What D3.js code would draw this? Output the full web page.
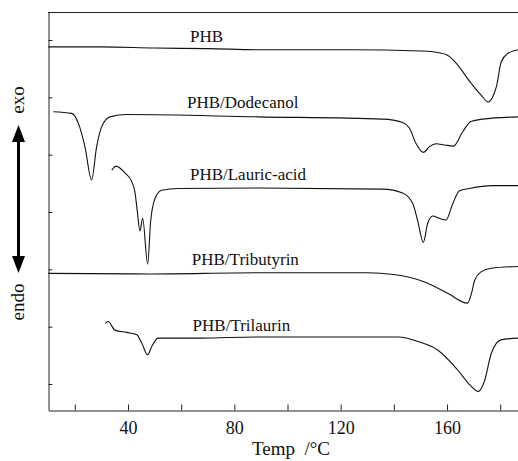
<!DOCTYPE html>
<html>
<head>
<meta charset="utf-8">
<script src="https://cdn.jsdelivr.net/npm/d3@7"></script>
<style>
	body { margin: 0; background: #fff; }
	svg { display: block; }
	text { font-family: "Liberation Serif", "Times New Roman", serif; fill: #111; }
	.axis path, .axis line { stroke: #222; stroke-width: 1; }
	.curve { fill: none; stroke: #111; stroke-width: 1.1; }
</style>
</head>
<body>
<svg width="518" height="461"></svg>
<script>
// DSC traces, [temperature in C, heat flow in tick units]
var seriesNames = ["PHB", "PHB/Dodecanol", "PHB/Lauric-acid", "PHB/Tributyrin", "PHB/Trilaurin"]

var phb = [[10, 5.88], [30, 5.88], [50, 5.86], [70, 5.85], [90, 5.83], [124, 5.83], [150, 5.81], [154, 5.80],
	[160, 5.74], [163, 5.62], [169, 5.25], [173, 5.03], [175.5, 4.92], [177.3, 5.02], [178.6, 5.19],
	[180.4, 5.62], [183, 5.77], [186.7, 5.83]]

var phbDodecanol = [[11.9, 4.75], [18.8, 4.72], [21.3, 4.55], [23.8, 4.14], [26.3, 3.56], [28.2, 4.14],
	[30.1, 4.49], [33.2, 4.66], [39.5, 4.70], [89, 4.66], [135.8, 4.62], [143.3, 4.56], [145.9, 4.46],
	[148.3, 4.20], [151.1, 4.04], [153.4, 4.14], [155.9, 4.19], [159, 4.17], [162.4, 4.15], [165.9, 4.40],
	[169, 4.58], [173.4, 4.62], [186.7, 4.66]]

var phbLauric = [[33.9, 3.73], [35.5, 3.80], [38.9, 3.68], [41.4, 3.53], [42.6, 3.35], [43.5, 3.01],
	[44.5, 2.67], [45.5, 2.89], [47.4, 2.09], [48.5, 2.83], [50.2, 3.24], [52.7, 3.38], [58.8, 3.41],
	[89, 3.42], [135.8, 3.40], [143.3, 3.33], [147.1, 3.15], [148.9, 2.86], [151.1, 2.47], [152.7, 2.80],
	[154.6, 2.93], [157.1, 2.89], [159.6, 2.86], [162.2, 3.15], [164.7, 3.37], [168.4, 3.41],
	[177.2, 3.46], [186.7, 3.46]]

var phbTributyrin = [[10, 1.93], [48.3, 1.92], [89, 1.94], [130, 1.94], [139.9, 1.91], [151.6, 1.78],
	[160.4, 1.58], [167.7, 1.41], [169.2, 1.58], [170.4, 1.81], [172.9, 1.96], [176.6, 2.02], [186.7, 2.05]]

var phbTrilaurin = [[31.5, 1.06], [32.5, 1.09], [35.1, 0.94], [39.5, 0.90], [43.3, 0.86], [45.2, 0.71],
	[47.4, 0.51], [48.9, 0.65], [51.3, 0.80], [67.1, 0.80], [89, 0.82], [141.6, 0.82], [149.9, 0.73],
	[156.6, 0.59], [164.1, 0.24], [168.7, -0.02], [171.7, -0.13], [174, 0.04], [176.7, 0.54],
	[180.3, 0.77], [186.7, 0.80]]

var seriesValues = [phb, phbDodecanol, phbLauric, phbTributyrin, phbTrilaurin]

// where each name sits (temperature, level)
var labelTemps = [63.3, 62.2, 63.3, 64, 64.3]
var labelLevels = [5.965, 4.814, 3.558, 2.076, 0.924]

var xTicks = [20, 40, 60, 80, 100, 120, 140, 160, 180]
var xTickLabels = [40, 80, 120, 160]
var yTicks = [0, 1, 2, 3, 4, 5, 6]

var svg = d3.select("svg")

var x = d3.scaleLinear().domain([10, 186.7]).range([48.25, 518])
var y = d3.scaleLinear().domain([-0.4535, 6.489]).range([410, 12])

// frame
svg.append("line")
	.attr("x1", 48).attr("x2", 518)
	.attr("y1", 12.5).attr("y2", 12.5)
	.attr("stroke", "#222")

svg.append("g")
	.attr("class", "axis")
	.attr("transform", "translate(0,410.5)")
	.call(d3.axisBottom(x)
		.tickValues(xTicks)
		.tickSizeInner(-6)
		.tickSizeOuter(0)
		.tickPadding(11)
		.tickFormat(function(d) { return xTickLabels.indexOf(d) >= 0 ? d : "" }))
	.selectAll("text")
	.style("font-size", "18px")

svg.append("g")
	.attr("class", "axis")
	.attr("transform", "translate(48.5,0)")
	.call(d3.axisLeft(y)
		.tickValues(yTicks)
		.tickSizeInner(-4)
		.tickSizeOuter(0)
		.tickFormat(""))

svg.selectAll(".axis text").attr("fill", "#111")

// curves
var line = d3.line()
	.x(function(d) { return x(d[0]) })
	.y(function(d) { return y(d[1]) })
	.curve(d3.curveMonotoneX)

svg.append("g")
	.selectAll("path")
	.data(seriesValues)
	.join("path")
	.attr("class", "curve")
	.attr("d", line)

svg.append("g")
	.selectAll("text")
	.data(seriesNames)
	.join("text")
	.attr("x", function(d, i) { return x(labelTemps[i]) })
	.attr("y", function(d, i) { return y(labelLevels[i]) })
	.style("font-size", "17px")
	.text(function(d) { return d })

// axis title
svg.append("text")
	.attr("x", 291)
	.attr("y", 455)
	.attr("text-anchor", "middle")
	.style("font-size", "19px")
	.text("Temp\u00a0\u00a0/\u00b0C")

// exo / endo arrow
var arrow = svg.append("g")
arrow.append("line")
	.attr("x1", 18.5).attr("x2", 18.5)
	.attr("y1", 140).attr("y2", 258)
	.attr("stroke", "#000")
	.attr("stroke-width", 3)
arrow.append("path")
	.attr("d", "M18.5,125L25,142L12,142Z")
	.attr("fill", "#000")
arrow.append("path")
	.attr("d", "M18.5,273L25,256L12,256Z")
	.attr("fill", "#000")

svg.append("text")
	.attr("transform", "translate(24,100) rotate(-90)")
	.attr("text-anchor", "middle")
	.style("font-size", "19px")
	.text("exo")

svg.append("text")
	.attr("transform", "translate(24,302) rotate(-90)")
	.attr("text-anchor", "middle")
	.style("font-size", "19px")
	.text("endo")
</script>
</body>
</html>
